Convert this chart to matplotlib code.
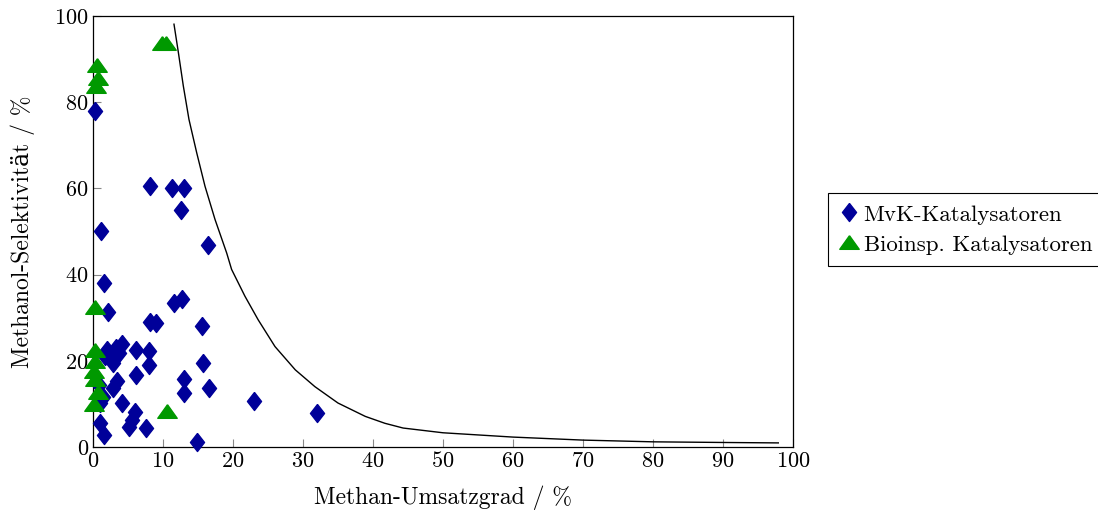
import numpy as np
import matplotlib
matplotlib.use("Agg")
import matplotlib.pyplot as plt

plt.rcParams['font.family'] = ['cmr10', 'DejaVu Serif']
plt.rcParams['mathtext.fontset'] = 'cm'
plt.rcParams['axes.formatter.use_mathtext'] = True

# MvK catalysts (blue diamonds)
x_mvk = [0.3, 1.1, 1.6, 2.1, 8.1, 11.3, 13.0, 12.6, 16.4, 11.6, 12.7, 8.1, 9.0,
         15.6, 2.0, 4.1, 2.9, 3.7, 1.7, 2.9, 6.1, 8.0, 8.0, 6.1, 3.4, 2.9, 13.0,
         13.0, 15.7, 16.6, 23.0, 32.0, 4.1, 6.0, 5.1, 7.6, 1.0, 1.6, 14.8, 1.0,
         0.8, 1.4, 3.3, 5.5]
y_mvk = [78, 50, 38, 31.4, 60.5, 60.2, 60.2, 55, 46.8, 33.3, 34.4, 29, 28.8,
         28, 22.5, 24, 21.4, 21.8, 21, 19.5, 22.5, 22.3, 19, 16.7, 15.2, 13.7, 15.8,
         12.5, 19.5, 13.8, 10.7, 7.9, 10.2, 8.1, 4.7, 4.5, 5.6, 2.8, 1.2, 10.2,
         14.5, 11.6, 23.0, 6.2]

# bioinspired catalysts (green triangles)
x_bio = [9.9, 10.4, 0.5, 0.7, 0.4, 0.3, 0.3, 0.3, 0.2, 0.3, 0.7, 0.2, 10.5]
y_bio = [93.5, 93.5, 88.4, 85.3, 83.5, 32.3, 22.3, 19.8, 17.5, 15.5, 12.5, 9.8, 8.2]

# limit curve
x_lim = [11.57, 12.19, 12.9, 13.71, 14.81, 16.0, 17.43, 19.1, 19.8, 21.7, 23.6,
         26.0, 28.9, 31.7, 35.0, 38.9, 41.7, 44.3, 50.0, 60.0, 70.0, 80.0, 90.0,
         97.9]
y_lim = [98.1, 91.6, 83.8, 76.0, 68.3, 60.5, 52.8, 45.0, 41.2, 35.0, 29.5,
         23.3, 17.9, 14.0, 10.2, 7.1, 5.5, 4.4, 3.3, 2.3, 1.6, 1.2, 1.05, 0.95]

blue = '#000099'
green = '#009900'
diamond = [(0, 1), (0.78, 0), (0, -1), (-0.78, 0), (0, 1)]
triangle = [(0, 0.8), (1, -0.6), (-1, -0.6), (0, 0.8)]

fig = plt.figure(figsize=(10.98, 5.11), dpi=100)
ax = fig.add_axes([93/1098, 64/511, 700/1098, 431/511])

ax.plot(x_lim, y_lim, color='black', lw=1.0, zorder=2)
ax.plot(x_mvk, y_mvk, linestyle='none', marker=diamond, markersize=13,
        color=blue, mec=blue, label='MvK-Katalysatoren', zorder=3, clip_on=False)
ax.plot(x_bio, y_bio, linestyle='none', marker=triangle, markersize=14,
        color=green, mec=green, label='Bioinsp. Katalysatoren', zorder=4,
        clip_on=False)

ax.set_xlim(0, 100)
ax.set_ylim(0, 100)
ax.set_xticks(np.arange(0, 101, 10))
ax.set_yticks(np.arange(0, 101, 20))
ax.tick_params(direction='in', length=6, width=0.8, color='#888888',
               labelsize=16, top=False, right=False, pad=3)
for s in ax.spines.values():
    s.set_linewidth(0.9)

ax.set_xlabel('Methan-Umsatzgrad / %', fontsize=17, labelpad=10)
ax.set_ylabel('Methanol-Selektivität / %', fontsize=17, labelpad=14)

leg = ax.legend(loc='upper left', bbox_to_anchor=(828/1098, (511-193)/511),
                bbox_transform=fig.transFigure, fontsize=16.5, fancybox=False,
                edgecolor='black', framealpha=1, handlelength=0.8,
                handletextpad=0.25, borderpad=0.5, labelspacing=0.45,
                borderaxespad=0)
leg.get_frame().set_linewidth(0.8)

fig.savefig('out.png', dpi=100)
